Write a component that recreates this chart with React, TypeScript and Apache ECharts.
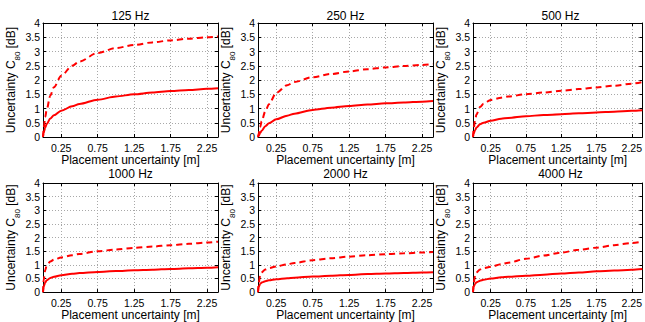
import React, { useEffect, useRef } from "react";
import * as echarts from "echarts";

const titles = ["125 Hz", "250 Hz", "500 Hz", "1000 Hz", "2000 Hz", "4000 Hz"];
const xs = [0, 0.01, 0.03, 0.05, 0.1, 0.15, 0.25, 0.4, 0.5, 0.75, 1.0, 1.25, 1.5, 1.75, 2.0, 2.25, 2.4];

const solid125 = [0, 0.15, 0.33, 0.45, 0.65, 0.76, 0.92, 1.08, 1.16, 1.31, 1.42, 1.5, 1.56, 1.61, 1.65, 1.69, 1.71];
const dashed125 = [0, 0.3, 0.7, 0.95, 1.45, 1.75, 2.15, 2.5, 2.65, 2.95, 3.12, 3.23, 3.32, 3.39, 3.45, 3.5, 3.53];
const solid250 = [0, 0.05, 0.14, 0.22, 0.38, 0.48, 0.62, 0.75, 0.82, 0.95, 1.03, 1.09, 1.14, 1.18, 1.21, 1.24, 1.26];
const dashed250 = [0, 0.12, 0.35, 0.55, 0.9, 1.15, 1.55, 1.82, 1.93, 2.1, 2.21, 2.3, 2.38, 2.44, 2.49, 2.53, 2.56];
const solid500 = [0, 0.12, 0.25, 0.33, 0.45, 0.5, 0.57, 0.64, 0.67, 0.73, 0.77, 0.8, 0.83, 0.86, 0.89, 0.92, 0.94];
const dashed500 = [0, 0.3, 0.6, 0.8, 1.05, 1.17, 1.3, 1.38, 1.42, 1.5, 1.56, 1.62, 1.68, 1.74, 1.8, 1.87, 1.93];
const solid1000 = [0, 0.2, 0.35, 0.43, 0.52, 0.56, 0.62, 0.67, 0.7, 0.74, 0.77, 0.8, 0.82, 0.85, 0.87, 0.89, 0.91];
const dashed1000 = [0, 0.45, 0.8, 0.97, 1.12, 1.19, 1.27, 1.35, 1.4, 1.5, 1.56, 1.62, 1.67, 1.72, 1.77, 1.82, 1.85];
const solid2000 = [0, 0.2, 0.3, 0.35, 0.4, 0.43, 0.47, 0.51, 0.53, 0.57, 0.6, 0.63, 0.66, 0.68, 0.7, 0.72, 0.73];
const dashed2000 = [0, 0.35, 0.6, 0.72, 0.83, 0.88, 0.94, 1.02, 1.07, 1.17, 1.24, 1.3, 1.35, 1.39, 1.42, 1.45, 1.47];
const solid4000 = [0, 0.2, 0.3, 0.36, 0.42, 0.45, 0.5, 0.54, 0.56, 0.6, 0.64, 0.68, 0.72, 0.76, 0.79, 0.82, 0.85];
const dashed4000 = [0, 0.35, 0.6, 0.72, 0.83, 0.88, 0.93, 1.02, 1.08, 1.22, 1.34, 1.45, 1.55, 1.63, 1.72, 1.8, 1.85];

const solids = [solid125, solid250, solid500, solid1000, solid2000, solid4000];
const dasheds = [dashed125, dashed250, dashed500, dashed1000, dashed2000, dashed4000];

const xTicks = [0.25, 0.75, 1.25, 1.75, 2.25];
const xName = "Placement uncertainty [m]";

const FONT = "'Liberation Sans', Arial, Helvetica, sans-serif";

export default function App() {
  const ref = useRef<HTMLDivElement>(null);
  useEffect(() => {
    if (!ref.current) return;
    const chart = echarts.init(ref.current, null, { renderer: "svg" });
    const colLefts = [43, 258, 473];
    const rowTops = [23, 183];
    const rowHeights = [114, 113];
    const W = 175;
    const grids: any[] = [];
    const xAxes: any[] = [];
    const yAxes: any[] = [];
    const series: any[] = [];
    const graphics: any[] = [];
    const gridLine = { show: true, lineStyle: { color: "#a8a8a8", type: [1, 2], width: 1 } };
    for (let i = 0; i < 6; i++) {
      const r = Math.floor(i / 3);
      const c = i % 3;
      grids.push({ left: colLefts[c], top: rowTops[r], width: W, height: rowHeights[r], containLabel: false });
      xAxes.push({
        type: "value", gridIndex: i, min: 0, max: 2.4, position: "bottom",
        axisLine: { show: true, onZero: false, lineStyle: { color: "#000", width: 1 } },
        axisTick: { show: true, inside: true, length: 3, customValues: xTicks, lineStyle: { color: "#000" } },
        axisLabel: { customValues: xTicks, color: "#000", fontSize: 10.5, margin: 5, fontFamily: FONT },
        splitLine: gridLine,
        name: xName, nameLocation: "middle", nameGap: 14,
        nameTextStyle: { fontSize: 12, color: "#000", fontFamily: FONT },
      });
      xAxes.push({
        type: "value", gridIndex: i, min: 0, max: 2.4, position: "top",
        axisLine: { show: true, onZero: false, lineStyle: { color: "#000", width: 1 } },
        axisTick: { show: true, inside: true, length: 3, customValues: xTicks, lineStyle: { color: "#000" } },
        axisLabel: { show: false }, splitLine: { show: false },
      });
      yAxes.push({
        type: "value", gridIndex: i, min: 0, max: 4, interval: 0.5, position: "left",
        axisLine: { show: true, onZero: false, lineStyle: { color: "#000", width: 1 } },
        axisTick: { show: true, inside: true, length: 3, lineStyle: { color: "#000" } },
        axisLabel: { color: "#000", fontSize: 10.5, margin: 3, fontFamily: FONT },
        splitLine: gridLine,
        name: "{a|Uncertainty C}{b|80}{a| [dB]}", nameLocation: "middle", nameGap: 18,
        nameTextStyle: {
          color: "#000", fontFamily: FONT,
          rich: {
            a: { fontSize: 12, lineHeight: 14, verticalAlign: "top", fontFamily: FONT, color: "#000" },
            b: { fontSize: 8, lineHeight: 8, padding: [9, 0, 0, 0], verticalAlign: "top", fontFamily: FONT, color: "#000" },
          },
        },
      });
      yAxes.push({
        type: "value", gridIndex: i, min: 0, max: 4, interval: 0.5, position: "right",
        axisLine: { show: true, onZero: false, lineStyle: { color: "#000", width: 1 } },
        axisTick: { show: true, inside: true, length: 3, lineStyle: { color: "#000" } },
        axisLabel: { show: false }, splitLine: { show: false },
      });
      series.push({
        type: "line", xAxisIndex: 2 * i, yAxisIndex: 2 * i, showSymbol: false, smooth: 0.3, smoothMonotone: "x",
        data: xs.map((x, k) => [x, dasheds[i][k]]),
        lineStyle: { color: "#ff0000", width: 2, type: [6, 4] }, z: 3,
      });
      series.push({
        type: "line", xAxisIndex: 2 * i, yAxisIndex: 2 * i, showSymbol: false, smooth: 0.3, smoothMonotone: "x",
        data: xs.map((x, k) => [x, solids[i][k]]),
        lineStyle: { color: "#ff0000", width: 2, type: "solid" }, z: 3,
      });
      graphics.push({
        type: "text", x: colLefts[c] + W / 2, y: r === 0 ? 15.5 : 173.5,
        style: {
          text: titles[i], textAlign: "center", textVerticalAlign: "middle",
          fontSize: 12, fontWeight: "normal", fontFamily: FONT, fill: "#000",
        },
      });
    }
    chart.setOption({
      animation: false,
      backgroundColor: "#fff",
      grid: grids,
      xAxis: xAxes,
      yAxis: yAxes,
      series,
      graphic: graphics,
    });
    return () => chart.dispose();
  }, []);
  return <div ref={ref} style={{ position: "fixed", left: 0, top: 0, width: 645, height: 322 }} />;
}
